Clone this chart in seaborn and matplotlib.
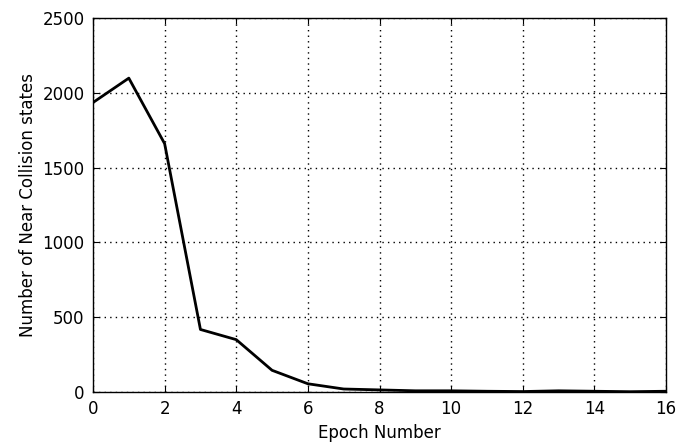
import matplotlib
matplotlib.use("Agg")
import matplotlib.pyplot as plt
import seaborn as sns
import pandas as pd

epochs = list(range(17))
near_collisions = [1935, 2098, 1660, 418, 350, 145, 55, 20, 14, 8, 8, 5, 3, 8, 5, 2, 5]

sns.set_style("white")
plt.rcParams['font.family'] = ['DejaVu Sans']
plt.rcParams['text.color'] = 'black'
plt.rcParams['axes.labelcolor'] = 'black'

df = pd.DataFrame({"epoch": epochs, "count": near_collisions})

fig = plt.figure(figsize=(6.78, 4.45), dpi=100)
ax = fig.add_axes([93/678, 1 - 392/445, (666-93)/678, (392-18)/445])
sns.lineplot(data=df, x="epoch", y="count", ax=ax, color="black", linewidth=2)
ax.set_xlim(0, 16)
ax.set_ylim(0, 2500)
ax.set_xticks(range(0, 17, 2))
ax.set_yticks(range(0, 2501, 500))
ax.grid(True, linestyle=(0, (1, 3)), color="black", linewidth=1)
for s in ax.spines.values():
    s.set_visible(True)
    s.set_color("black")
    s.set_linewidth(1)
ax.tick_params(direction="in", length=4, top=True, right=True, bottom=True, left=True,
               labelsize=12, colors="black", labelcolor="black", pad=6)
ax.set_xlabel("Epoch Number", fontsize=12, color="black")
ax.set_ylabel("Number of Near Collision states", fontsize=12, color="black")
fig.savefig("out.png", dpi=100)
